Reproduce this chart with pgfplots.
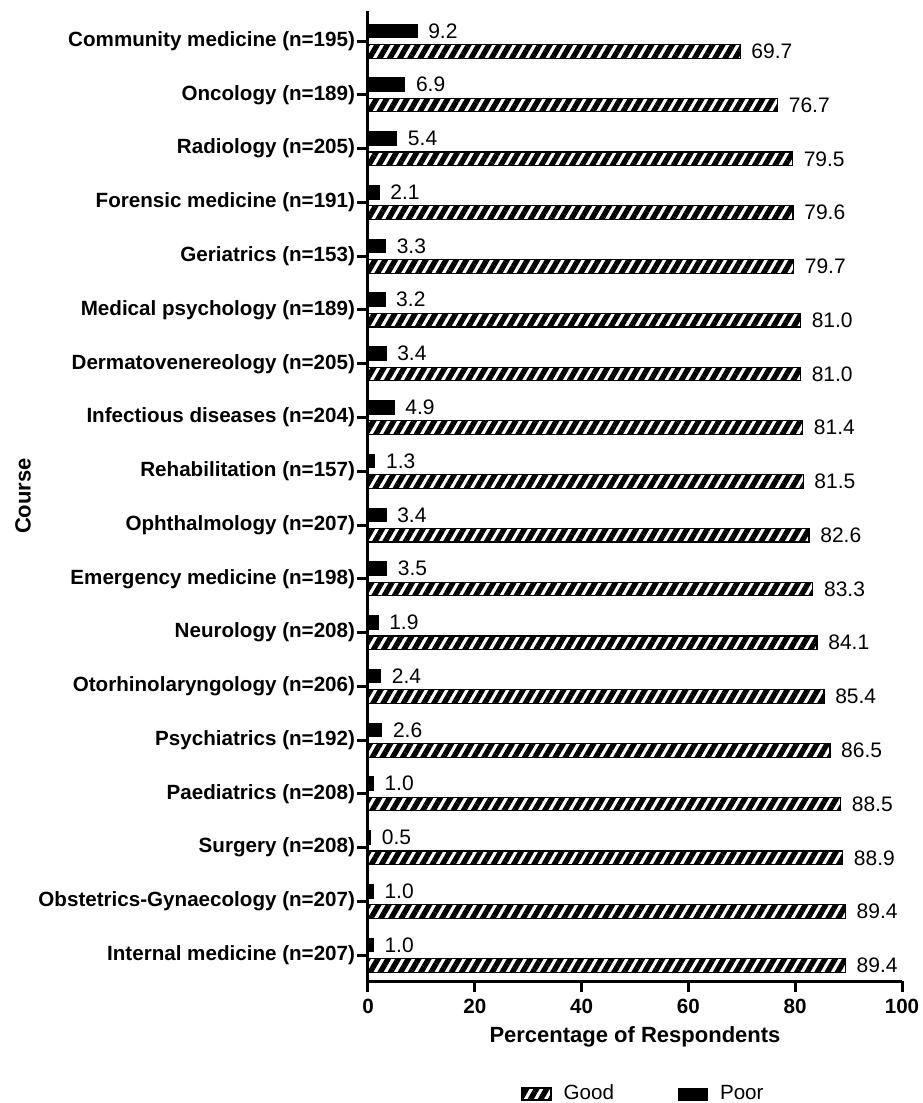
\documentclass[border=0pt]{standalone}
\usepackage{pgfplots}
\pgfplotsset{compat=1.18}
\usepackage{pgfplotstable}
\usepackage{fontspec}
\setmainfont{Liberation Sans}
\usetikzlibrary{patterns.meta}

\pgfplotstableread{
pos good poor
17 69.7 9.2
16 76.7 6.9
15 79.5 5.4
14 79.6 2.1
13 79.7 3.3
12 81.0 3.2
11 81.0 3.4
10 81.4 4.9
9 81.5 1.3
8 82.6 3.4
7 83.3 3.5
6 84.1 1.9
5 85.4 2.4
4 86.5 2.6
3 88.5 1.0
2 88.9 0.5
1 89.4 1.0
0 89.4 1.0
}\datatable

\begin{document}
\begin{tikzpicture}
\begin{axis}[
  scale only axis,
  width=267pt, height=485pt,
  xbar, bar width=6.8pt,
  xmin=0, xmax=100, ymin=-0.48, ymax=17.56,
  clip=false,
  axis x line*=bottom, axis y line*=left,
  axis line style={line width=1.5pt, -},
  every tick/.style={line width=1.5pt, black},
  tick align=outside, major tick length=5.5pt,
  xtick={0,20,40,60,80,100},
  ytick={0,...,17},
  yticklabels={Internal medicine (n=207),Obstetrics-Gynaecology (n=207),Surgery (n=208),Paediatrics (n=208),Psychiatrics (n=192),Otorhinolaryngology (n=206),Neurology (n=208),Emergency medicine (n=198),Ophthalmology (n=207),Rehabilitation (n=157),Infectious diseases (n=204),Dermatovenereology (n=205),Medical psychology (n=189),Geriatrics (n=153),Forensic medicine (n=191),Radiology (n=205),Oncology (n=189),Community medicine (n=195)},
  /pgf/number format/assume math mode=true,
  ticklabel style={font=\fontsize{10.3}{12}\selectfont\bfseries},
  yticklabel style={inner xsep=0.8pt},
  xlabel={Percentage of Respondents},
  ylabel={Course},
  label style={font=\fontsize{11}{13}\selectfont\bfseries},
  xlabel style={at={(axis description cs:0.5,-0.0577)}, anchor=center},
  ylabel style={at={(axis description cs:-0.646,0.5)}, anchor=center, rotate=0},
  nodes near coords={\pgfmathprintnumber[fixed,fixed zerofill,precision=1]{\pgfplotspointmeta}},
  nodes near coords style={font=\fontsize{10.5}{12}\selectfont, xshift=2pt},
  legend style={at={(axis description cs:0.5,-0.1165)}, anchor=center, xshift=4.75pt,
    draw=none, legend columns=2, font=\fontsize{10.3}{12}\selectfont,
    /tikz/every odd column/.append style={column sep=4pt},
    /tikz/every even column/.append style={column sep=30pt}},
  legend image code/.code={\draw[#1] (0pt,-3pt) rectangle (14.5pt,3pt);},
]
\addplot[bar shift=-5.1pt, draw=black, line width=0.6pt,
  pattern={Lines[angle=60,distance=4.4pt,line width=2.7pt]}, pattern color=black]
  table[x=good, y=pos] {\datatable};
\addlegendentry{Good}
\addplot[bar shift=5.1pt, draw=black, fill=black, line width=0.5pt]
  table[x=poor, y=pos] {\datatable};
\addlegendentry{Poor}
\end{axis}
\pgfresetboundingbox
\path[use as bounding box] ([shift={(-184pt,-61pt)}]current axis.south west) rectangle ([shift={(277pt,490.5pt)}]current axis.south west);
\end{tikzpicture}
\end{document}
